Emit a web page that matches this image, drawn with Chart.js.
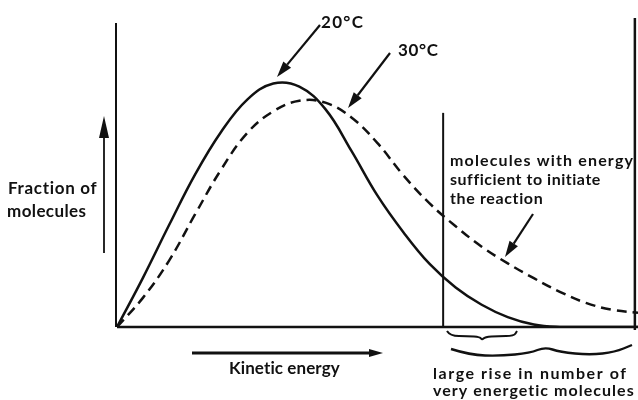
<!DOCTYPE html>
<html>
<head>
<meta charset="utf-8">
<script src="https://cdn.jsdelivr.net/npm/chart.js@4.4.1/dist/chart.umd.min.js"></script>
<style>
  html, body { margin: 0; padding: 0; background: #fff; }
  #wrap { width: 638px; height: 400px; }
</style>
</head>
<body>
<div id="wrap"><canvas id="myChart" width="638" height="400"></canvas></div>
<script>
// kinetic energy (arbitrary units, 0-100) and fraction of molecules (0-100)
var energy = [0, 5, 10, 15, 20, 25, 30, 35, 40, 45, 50, 55, 60, 65, 70, 75, 80, 85, 90, 95, 100];
var frac20 = [0, 16.0, 33.0, 49.4, 63.2, 73.6, 78.8, 77.8, 70.5, 57.0, 42.5, 30.6, 20.4, 12.8, 7.2, 3.2, 0.8, 0, 0, 0, 0];
var frac30 = [0, 9.5, 21.5, 36.5, 51.0, 62.8, 69.8, 73.2, 72.6, 67.8, 59.5, 49.0, 40.0, 32.6, 26.0, 20.6, 15.8, 11.4, 7.8, 5.6, 4.6];

var seriesNames = ['20°C', '30°C'];
var thresholdEnergy = 62.6;   // activation energy marker
var thresholdTop = 69.3;

function toPoints(xs, ys) {
  return xs.map(function (x, i) { return { x: x, y: ys[i] }; });
}

var ink = '#111';

function arrow(ctx, x1, y1, x2, y2, headLen, headW) {
  var a = Math.atan2(y2 - y1, x2 - x1);
  var bx = x2 - headLen * Math.cos(a), by = y2 - headLen * Math.sin(a);
  ctx.beginPath();
  ctx.moveTo(x1, y1);
  ctx.lineTo(bx, by);
  ctx.stroke();
  ctx.beginPath();
  ctx.moveTo(x2, y2);
  ctx.lineTo(bx + headW * Math.sin(a), by - headW * Math.cos(a));
  ctx.lineTo(bx - headW * Math.sin(a), by + headW * Math.cos(a));
  ctx.closePath();
  ctx.fill();
}

function smoothPath(ctx, pts) {
  ctx.beginPath();
  ctx.moveTo(pts[0][0], pts[0][1]);
  for (var i = 1; i < pts.length - 1; i++) {
    var mx = (pts[i][0] + pts[i + 1][0]) / 2, my = (pts[i][1] + pts[i + 1][1]) / 2;
    ctx.quadraticCurveTo(pts[i][0], pts[i][1], mx, my);
  }
  var last = pts[pts.length - 1];
  ctx.lineTo(last[0], last[1]);
  ctx.stroke();
}

// text squeezed/stretched to a given width with letter spacing
function fitText(ctx, str, x, y, width, size) {
  ctx.font = 'bold ' + size + 'px Lato';
  ctx.letterSpacing = '0px';
  var m = ctx.measureText(str).width;
  var ls = (width - m) / Math.max(1, str.length - 1);
  ctx.letterSpacing = ls.toFixed(2) + 'px';
  ctx.fillText(str, x, y);
  ctx.letterSpacing = '0px';
}

var labels = [
  { t: 'Fraction of', x: 8, y: 194, w: 89, s: 17 },
  { t: 'molecules', x: 7, y: 217, w: 79, s: 17 },
  { t: seriesNames[0], x: 321, y: 28, w: 42, s: 17 },
  { t: seriesNames[1], x: 398, y: 56, w: 40, s: 17 },
  { t: 'Kinetic energy', x: 229, y: 374, w: 111, s: 17 },
  { t: 'molecules with energy', x: 450, y: 166, w: 183, s: 16 },
  { t: 'sufficient to initiate', x: 450, y: 185, w: 150, s: 16 },
  { t: 'the reaction', x: 450, y: 204, w: 93, s: 16 },
  { t: 'large rise in number of', x: 433, y: 379, w: 193, s: 16 },
  { t: 'very energetic molecules', x: 433, y: 396, w: 201, s: 16 }
];

var diagram = {
  id: 'diagram',
  beforeDatasetsDraw: function (chart) {
    var ctx = chart.ctx, xs = chart.scales.x, ys = chart.scales.y;
    ctx.save();
    ctx.strokeStyle = ink;
    ctx.lineCap = 'butt';
    // axes
    ctx.lineWidth = 2;
    ctx.beginPath();
    ctx.moveTo(xs.getPixelForValue(0) - 1, ys.getPixelForValue(98.4));
    ctx.lineTo(xs.getPixelForValue(0) - 1, ys.getPixelForValue(0));
    ctx.stroke();
    ctx.lineWidth = 2.5;
    ctx.beginPath();
    ctx.moveTo(xs.getPixelForValue(0), ys.getPixelForValue(0));
    ctx.lineTo(xs.getPixelForValue(100), ys.getPixelForValue(0));
    ctx.stroke();
    // activation energy line
    ctx.lineWidth = 2;
    ctx.beginPath();
    ctx.moveTo(xs.getPixelForValue(thresholdEnergy), ys.getPixelForValue(thresholdTop));
    ctx.lineTo(xs.getPixelForValue(thresholdEnergy), ys.getPixelForValue(0));
    ctx.stroke();
    // right frame line
    ctx.lineWidth = 2.5;
    ctx.beginPath();
    ctx.moveTo(xs.getPixelForValue(99.4), ys.getPixelForValue(100));
    ctx.lineTo(xs.getPixelForValue(99.4), ys.getPixelForValue(-1));
    ctx.stroke();
    ctx.restore();
  },
  afterDraw: function (chart) {
    var ctx = chart.ctx;
    ctx.save();
    ctx.strokeStyle = ink;
    ctx.fillStyle = ink;
    ctx.lineWidth = 2.2;
    // pointers to the curves
    arrow(ctx, 320, 25, 277, 77, 16, 5);
    arrow(ctx, 390, 53, 348, 108, 16, 5);
    arrow(ctx, 533, 214, 505, 257, 16, 5);
    // axis direction arrows
    ctx.lineWidth = 1.8;
    arrow(ctx, 104, 253, 104, 116, 22, 5);
    ctx.lineWidth = 3;
    arrow(ctx, 192, 353, 383, 353, 14, 4);
    // braces under the axis
    ctx.lineWidth = 2;
    smoothPath(ctx, [[447, 331], [450, 336], [468, 336], [480, 337], [482, 340], [485, 337], [498, 336], [514, 336], [517, 331]]);
    ctx.lineWidth = 2.4;
    smoothPath(ctx, [[451, 349], [470, 355], [500, 356], [530, 353], [545, 347], [560, 352], [590, 355], [615, 352], [632, 345]]);
    // text
    ctx.textBaseline = 'alphabetic';
    labels.forEach(function (l) { fitText(ctx, l.t, l.x, l.y, l.w, l.s); });
    ctx.restore();
  }
};

var ctx = document.getElementById('myChart').getContext('2d');
var chart = new Chart(ctx, {
  type: 'line',
  data: {
    datasets: [{
      label: seriesNames[0],
      data: toPoints(energy, frac20),
      borderColor: ink,
      borderWidth: 2.5,
      pointRadius: 0,
      tension: 0.4,
      fill: false
    }, {
      label: seriesNames[1],
      data: toPoints(energy, frac30),
      borderColor: ink,
      borderWidth: 2.5,
      borderDash: [10, 6],
      pointRadius: 0,
      tension: 0.4,
      fill: false
    }]
  },
  options: {
    responsive: false,
    animation: false,
    layout: { padding: { left: 117, right: 0, top: 18, bottom: 73 } },
    scales: {
      x: { type: 'linear', min: 0, max: 100, display: false },
      y: { min: 0, max: 100, display: false }
    },
    plugins: { legend: { display: false }, tooltip: { enabled: false } }
  },
  plugins: [diagram]
});
</script>
</body>
</html>
